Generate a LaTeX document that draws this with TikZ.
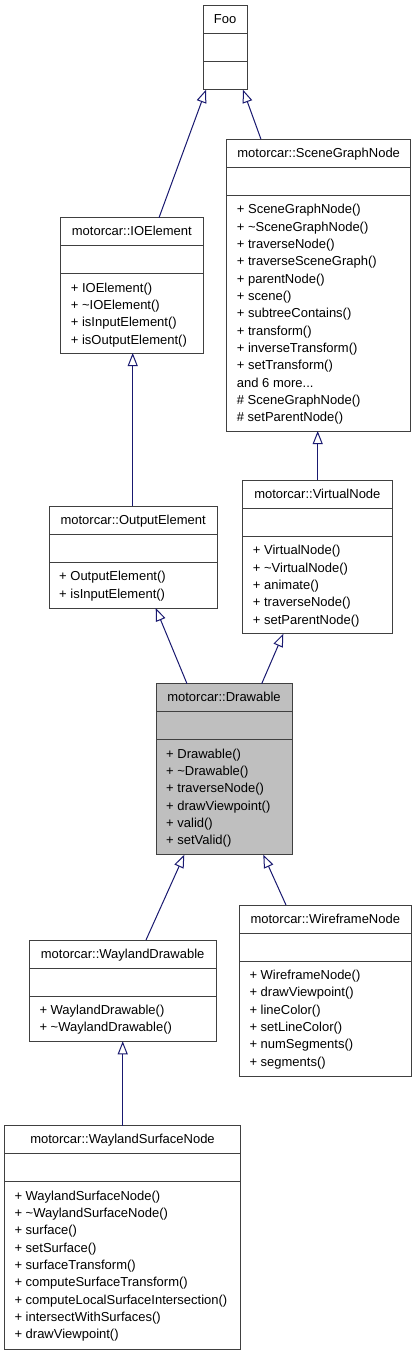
\documentclass[tikz,border=0pt]{standalone}
\usepackage{fontspec}
\setmainfont{Liberation Sans}
\usetikzlibrary{arrows.meta}
\definecolor{edgeblue}{HTML}{191970}
\definecolor{boxline}{HTML}{404040}
\definecolor{drawgray}{HTML}{BFBFBF}
\tikzset{
  classbox/.style={draw=boxline, line width=1pt, fill=white, rectangle, inner sep=0pt, outer sep=0pt},
  sepline/.style={draw=boxline, line width=1pt},
  titletext/.style={anchor=base, inner sep=0pt, font=\fontsize{13}{16}\selectfont},
  membertext/.style={anchor=base west, inner sep=0pt, font=\fontsize{13}{16}\selectfont},
  inh/.style={draw=edgeblue, line width=1pt, -{Triangle[open, length=13pt, width=10pt]}},
}
% #1 extra style, #2 name, #3 x1, #4 y1, #5 x2, #6 y2, #7 title, #8 members
\newcommand{\umlclass}[8][]{%
  \node[classbox, #1, minimum width={#5-#3}, minimum height={#6-#4}] (#2) at ({(#3+#5)/2},{(#4+#6)/2}) {};
  \draw[sepline] (#2.west |- 0,{#4+28}) -- (#2.east |- 0,{#4+28});
  \draw[sepline] (#2.west |- 0,{#4+56}) -- (#2.east |- 0,{#4+56});
  \node[titletext] (#2-title) at ({(#3+#5)/2},{#4+18}) {#7};
  \foreach \m [count=\i] in {#8} {
    \ifx\m\empty\else
    \node[membertext] at ({#3+10},{#4+56+18.5+(\i-1)*17.33}) {\m};
    \fi
  }
}
\begin{document}
\begin{tikzpicture}[x=1pt,y=-1pt]
\fill[white] (0,0) rectangle (416,1355);
\useasboundingbox (0,0) rectangle (416,1355);

\umlclass{foo}{203.3}{5.7}{247}{89.7}{Foo}{}
\umlclass{sgn}{226.7}{139.3}{410.7}{431}{motorcar::SceneGraphNode}{%
  {+ SceneGraphNode()},
  {+ \textasciitilde SceneGraphNode()},
  {+ traverseNode()},
  {+ traverseSceneGraph()},
  {+ parentNode()},
  {+ scene()},
  {+ subtreeContains()},
  {+ transform()},
  {+ inverseTransform()},
  {+ setTransform()},
  {and 6 more.{}.{}.},
  {\# SceneGraphNode()},
  {\# setParentNode()}}
\umlclass{io}{60.7}{217.7}{203}{353}{motorcar::IOElement}{%
  {+ IOElement()},
  {+ \textasciitilde IOElement()},
  {+ isInputElement()},
  {+ isOutputElement()}}
\umlclass{out}{49}{506.3}{217.3}{608}{motorcar::OutputElement}{%
  {+ OutputElement()},
  {+ isInputElement()}}
\umlclass{vn}{242.7}{480.3}{392}{633.7}{motorcar::VirtualNode}{%
  {+ VirtualNode()},
  {+ \textasciitilde VirtualNode()},
  {+ animate()},
  {+ traverseNode()},
  {+ setParentNode()}}
\umlclass[fill=drawgray]{drw}{156}{683.7}{292}{854.7}{motorcar::Drawable}{%
  {+ Drawable()},
  {+ \textasciitilde Drawable()},
  {+ traverseNode()},
  {+ drawViewpoint()},
  {+ valid()},
  {+ setValid()}}
\umlclass{wf}{239.3}{905}{411.3}{1076}{motorcar::WireframeNode}{%
  {+ WireframeNode()},
  {+ drawViewpoint()},
  {+ lineColor()},
  {+ setLineColor()},
  {+ numSegments()},
  {+ segments()}}
\umlclass{wd}{29.3}{940}{216}{1041.3}{motorcar::WaylandDrawable}{%
  {+ WaylandDrawable()},
  {+ \textasciitilde WaylandDrawable()}}
\umlclass{wsn}{4.3}{1125.7}{240.7}{1349}{motorcar::WaylandSurfaceNode}{%
  {+ WaylandSurfaceNode()},
  {+ \textasciitilde WaylandSurfaceNode()},
  {+ surface()},
  {+ setSurface()},
  {+ surfaceTransform()},
  {+ computeSurfaceTransform()},
  {+ computeLocalSurfaceIntersection()},
  {+ intersectWithSurfaces()},
  {+ drawViewpoint()}}

\draw[inh] ([xshift=98.3]io.north west) -- ([xshift=2.7]foo.south west);
\draw[inh] ([xshift=34.3]sgn.north west) -- ([xshift=39.7]foo.south west);
\draw[inh] ([xshift=83.7]out.north west) -- ([xshift=72]io.south west);
\draw[inh] ([xshift=75]vn.north west) -- ([xshift=91]sgn.south west);
\draw[inh] ([xshift=31]drw.north west) -- ([xshift=106.7]out.south west);
\draw[inh] ([xshift=105.7]drw.north west) -- ([xshift=40.6]vn.south west);
\draw[inh] ([xshift=116.7]wd.north west) -- ([xshift=28.3]drw.south west);
\draw[inh] ([xshift=46.7]wf.north west) -- ([xshift=107.3]drw.south west);
\draw[inh] ([xshift=118.4]wsn.north west) -- ([xshift=93.4]wd.south west);
\end{tikzpicture}
\end{document}
